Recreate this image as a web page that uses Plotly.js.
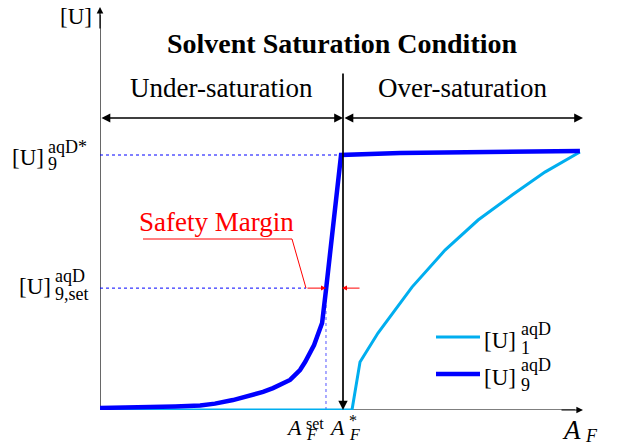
<!DOCTYPE html>
<html><head><meta charset="utf-8">
<script src="https://cdn.plot.ly/plotly-3.0.1.min.js"></script>
<style>html,body{margin:0;padding:0;background:#fff}#chart{width:620px;height:445px}</style>
</head><body><div id="chart"></div>
<script>
// ---- data (normalised: A_F* = 1, [U]9aqD* = 1) ----
const aF9 = [0, 0.103, 0.206, 0.309, 0.412, 0.473, 0.547, 0.588, 0.630, 0.671, 0.712, 0.749, 0.782, 0.802, 0.823, 0.844, 0.864, 0.881, 0.893, 0.914, 0.930, 0.947, 0.967, 0.992, 1.235, 1.481, 1.728, 1.975];
const u9  = [0.008, 0.009, 0.011, 0.014, 0.018, 0.025, 0.039, 0.049, 0.059, 0.071, 0.086, 0.102, 0.118, 0.137, 0.157, 0.188, 0.224, 0.255, 0.286, 0.341, 0.471, 0.627, 0.804, 1.0, 1.008, 1.010, 1.012, 1.016];
const aF1 = [0, 1.037, 1.070, 1.144, 1.284, 1.420, 1.556, 1.696, 1.831, 1.975];
const u1  = [0, 0, 0.188, 0.302, 0.482, 0.627, 0.745, 0.843, 0.933, 1.012];
const seriesSubs = ['1', '9'];
const seriesSup = 'aqD';
const AF_STAR = 1.0, AF_SET = 0.930, U9_STAR = 1.0, U9_SET = 0.478;
const xTickLabels = [{base: 'A', sub: 'F', sup: 'set'}, {base: 'A', sub: 'F', sup: '*'}];
const yTickLabels = [{base: '[U]', sub: '9', sup: 'aqD*'}, {base: '[U]', sub: '9,set', sup: 'aqD'}];
const axisLabels = {x: {base: 'A', sub: 'F'}, y: '[U]'};
const regionLabels = ['Under-saturation', 'Over-saturation'];
const titleText = 'Solvent Saturation Condition';
const marginText = 'Safety Margin';

// ---- helpers for decoration placement (pixel -> data) ----
const X = p => (p - 100) / 243;
const Y = p => (410 - p) / 255;
const FONT = 'Liberation Serif, Times New Roman, serif';
const BLACK = '#000000', BLUE = '#0000ff', CYAN = '#00aeef', RED = '#ff0000';

const ann = [];
function txt(x, y, text, size, opts) {
  ann.push(Object.assign({x: x, y: y, xref: 'x', yref: 'y', text: text, showarrow: false,
    font: {family: FONT, size: size, color: BLACK}, xanchor: 'center', yanchor: 'middle'}, opts || {}));
}
function arrow(x0, y0, x1, y1, color, side, size, width) {
  ann.push({x: x1, y: y1, ax: x0, ay: y0, xref: 'x', yref: 'y', axref: 'x', ayref: 'y', text: '',
    showarrow: true, arrowhead: 2, startarrowhead: 2, arrowside: side || 'end', arrowsize: size || 1.1,
    startarrowsize: size || 1.1, arrowwidth: width || 1.3, arrowcolor: color || BLACK});
}
function stacked(x, y, lab, baseSize, scrSize, s, italic) {
  const b = italic ? '<i>' + lab.base + '</i>' : lab.base;
  const sb = italic ? '<i>' + lab.sub + '</i>' : lab.sub;
  txt(x, y, b, baseSize, {xanchor: 'right', xshift: s.bx, yshift: s.by});
  if (lab.sup) txt(x, y, lab.sup, scrSize, {xanchor: 'left', xshift: s.sx, yshift: s.supy});
  txt(x, y, sb, scrSize, {xanchor: 'left', xshift: s.sx, yshift: s.suby});
}

// axes arrowheads
arrow(X(560), 0, X(583), 0, BLACK, 'end', 1.1, 1.2);
arrow(0, Y(30), 0, Y(7), BLACK, 'end', 1.1, 1.2);
// vertical A_F* line
arrow(AF_STAR, Y(72), AF_STAR, 0, BLACK, 'end', 1.1, 1.7);
// region double arrows
arrow(0, Y(118), AF_STAR, Y(118), BLACK, 'end+start', 1.1, 1.6);
arrow(AF_STAR, Y(118), X(583), Y(118), BLACK, 'end+start', 1.1, 1.6);
// safety margin arrows
arrow(X(306), U9_SET, X(326), U9_SET, RED, 'end', 1.0, 1.0);
arrow(X(361), U9_SET, X(342), U9_SET, RED, 'end', 1.0, 1.0);

// texts
txt(X(342), Y(43), '<b>' + titleText + '</b>', 28);
txt(X(221), Y(88), regionLabels[0], 27);
txt(X(462), Y(88), regionLabels[1], 27);
txt(X(216), Y(222), marginText, 27, {font: {family: FONT, size: 27, color: RED}});
txt(0, Y(16), axisLabels.y, 23, {xshift: -24});
stacked(X(583), 0, axisLabels.x, 27, 18, {bx: 0, by: -20, sx: 0, suby: -26}, true);

stacked(0, U9_STAR, yTickLabels[0], 23, 18, {bx: -54, by: -2, sx: -54, supy: 8, suby: -9});
stacked(0, U9_SET, yTickLabels[1], 23, 18, {bx: -47, by: 2, sx: -47, supy: 12, suby: -6});
stacked(AF_SET, 0, xTickLabels[0], 22, 16, {bx: -22, by: -17, sx: -22, supy: -13, suby: -24}, true);
stacked(AF_STAR, 0, xTickLabels[1], 22, 16, {bx: 4, by: -17, sx: 4, supy: -10, suby: -24}, true);

// legend text
stacked(X(518), Y(340), {base: '[U]', sub: seriesSubs[0], sup: seriesSup}, 23, 18, {bx: 0, by: 0, sx: 1, supy: 11, suby: -8});
stacked(X(518), Y(377), {base: '[U]', sub: seriesSubs[1], sup: seriesSup}, 23, 18, {bx: 0, by: 0, sx: 1, supy: 12, suby: -8});

const shapes = [
  {type: 'line', layer: 'below', xref: 'x', yref: 'y', x0: 0, y0: 0, x1: X(575), y1: 0, line: {color: BLACK, width: 1.2}},
  {type: 'line', layer: 'below', xref: 'x', yref: 'y', x0: 0, y0: 0, x1: 0, y1: Y(15), line: {color: BLACK, width: 1.2}},
  {type: 'line', layer: 'below', xref: 'x', yref: 'y', x0: 0, y0: U9_STAR, x1: AF_STAR, y1: U9_STAR, line: {color: BLUE, width: 1, dash: 'dot'}},
  {type: 'line', layer: 'below', xref: 'x', yref: 'y', x0: 0, y0: U9_SET, x1: X(306), y1: U9_SET, line: {color: BLUE, width: 1, dash: 'dot'}},
  {type: 'line', layer: 'below', xref: 'x', yref: 'y', x0: AF_SET, y0: 0, x1: AF_SET, y1: U9_SET, line: {color: '#5555ff', width: 1, dash: 'dot'}},
  {type: 'path', xref: 'x', yref: 'y', path: 'M ' + X(143) + ',' + Y(239) + ' L ' + X(292) + ',' + Y(239) + ' L ' + X(306) + ',' + U9_SET,
   line: {color: RED, width: 1}},
  // legend keys
  {type: 'line', xref: 'x', yref: 'y', x0: X(436), x1: X(480), y0: Y(337), y1: Y(337), line: {color: CYAN, width: 3}},
  {type: 'line', xref: 'x', yref: 'y', x0: X(436), x1: X(480), y0: Y(374), y1: Y(374), line: {color: BLUE, width: 4.5}}
];

const traces = [
  {x: aF1, y: u1, type: 'scatter', mode: 'lines', name: '[U]1', line: {color: CYAN, width: 3}, hoverinfo: 'skip'},
  {x: aF9, y: u9, type: 'scatter', mode: 'lines', name: '[U]9', line: {color: BLUE, width: 4.5}, hoverinfo: 'skip'}
];

const ax = {showgrid: false, zeroline: false, showticklabels: false, showline: false, ticks: '', fixedrange: true};
const layout = {
  width: 620, height: 445, margin: {l: 100, r: 20, t: 5, b: 35},
  paper_bgcolor: '#ffffff', plot_bgcolor: '#ffffff', showlegend: false,
  xaxis: Object.assign({range: [0, 500 / 243]}, ax),
  yaxis: Object.assign({range: [0, 405 / 255]}, ax),
  annotations: ann, shapes: shapes
};
Plotly.newPlot('chart', traces, layout, {staticPlot: true, displayModeBar: false});
</script></body></html>
